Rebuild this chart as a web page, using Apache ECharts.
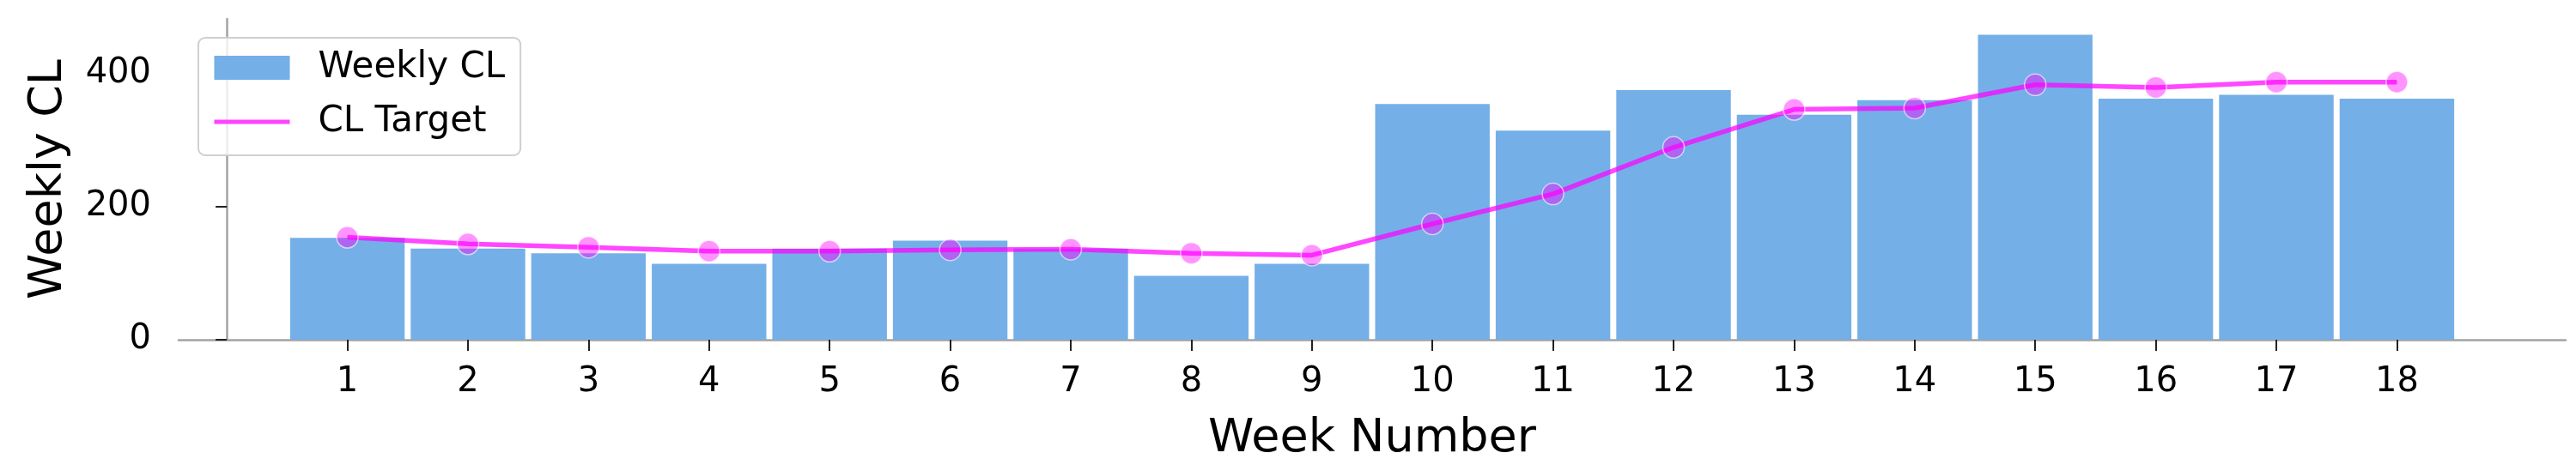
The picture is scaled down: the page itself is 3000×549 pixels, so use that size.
<!DOCTYPE html>
<html>
<head>
<meta charset="utf-8">
<title>Weekly CL</title>
<script src="https://cdn.jsdelivr.net/npm/echarts@6.0.0/dist/echarts.min.js"></script>
<style>
  html, body { margin: 0; padding: 0; background: #fff; }
  #chart { width: 3000px; height: 549px; }
</style>
</head>
<body>
<div id="chart"></div>
<script>
// week numbers shown on the x axis
const weeks = [1, 2, 3, 4, 5, 6, 7, 8, 9, 10, 11, 12, 13, 14, 15, 16, 17, 18]
// bar heights
const weeklyCL = [153, 137, 130, 114, 137, 149, 137, 96, 114, 354, 314, 375, 338, 360, 458, 362, 368, 362]
// target line
const clTarget = [154, 144, 139, 133, 133, 135, 136, 130, 127, 174, 219, 289, 346, 348, 383, 379, 387, 387]
// y tick labels
const yTicks = [0, 200, 400]

const font = 'DejaVu Sans'
const chart = echarts.init(document.getElementById('chart'), null, { renderer: 'canvas' })

// layout of the plot area
const gridLeft = 208
const gridRight = 12
const xMin = -0.4
const xMax = 19.4
const unitPx = (3000 - gridLeft - gridRight) / (xMax - xMin)

const spine = { show: true, lineStyle: { color: '#a3a3a3', width: 2.5 } }
const tick = { show: true, length: 13, lineStyle: { color: '#222', width: 2 } }

const option = {
  animation: false,
  backgroundColor: '#fff',
  textStyle: { fontFamily: font },
  grid: {
    left: gridLeft,
    right: gridRight,
    top: 22,
    bottom: 153,
    containLabel: false,
    outerBoundsMode: 'none'
  },
  legend: {
    orient: 'vertical',
    left: 231,
    top: 44,
    padding: [14, 18, 18, 16],
    itemWidth: 88,
    itemHeight: 28,
    itemGap: 21,
    borderColor: '#cfcfcf',
    borderWidth: 2,
    borderRadius: 8,
    backgroundColor: 'rgba(255,255,255,0.8)',
    textStyle: {
      fontFamily: font,
      fontSize: 42,
      lineHeight: 42,
      color: '#000',
      padding: [0, 0, 0, 28]
    },
    data: [
      { name: 'Weekly CL', icon: 'rect' },
      { name: 'CL Target', itemStyle: { opacity: 0 }, lineStyle: { width: 5, color: '#ff44ff' } }
    ]
  },
  xAxis: {
    type: 'value',
    min: xMin,
    max: xMax,
    name: 'Week Number',
    nameLocation: 'middle',
    nameGap: 89,
    nameTextStyle: { fontFamily: font, fontSize: 54, color: '#000' },
    axisLine: spine,
    axisTick: Object.assign({ customValues: weeks }, tick),
    axisLabel: {
      customValues: weeks,
      margin: 30,
      fontFamily: font,
      fontSize: 40,
      color: '#000'
    },
    splitLine: { show: false }
  },
  yAxis: {
    type: 'value',
    min: 0,
    max: 482,
    name: 'Weekly CL',
    nameLocation: 'middle',
    nameGap: 124,
    nameTextStyle: { fontFamily: font, fontSize: 54, color: '#000' },
    axisLine: spine,
    axisTick: Object.assign({ customValues: yTicks }, tick),
    axisLabel: {
      customValues: yTicks,
      margin: 32,
      fontFamily: font,
      fontSize: 40,
      color: '#000'
    },
    splitLine: { show: false }
  },
  series: [
    {
      name: 'Weekly CL',
      type: 'bar',
      barWidth: unitPx - 7,
      data: weeks.map((w, i) => [w, weeklyCL[i]]),
      itemStyle: { color: '#74afe8' },
      z: 2
    },
    {
      name: 'CL Target',
      type: 'line',
      data: weeks.map((w, i) => [w, clTarget[i]]),
      symbol: 'circle',
      symbolSize: 25,
      lineStyle: { color: 'rgba(255,0,255,0.72)', width: 5.5 },
      itemStyle: {
        color: 'rgba(255,0,255,0.42)',
        borderColor: 'rgba(255,255,255,0.6)',
        borderWidth: 1.5
      },
      z: 3
    }
  ]
}

chart.setOption(option)
</script>
</body>
</html>
